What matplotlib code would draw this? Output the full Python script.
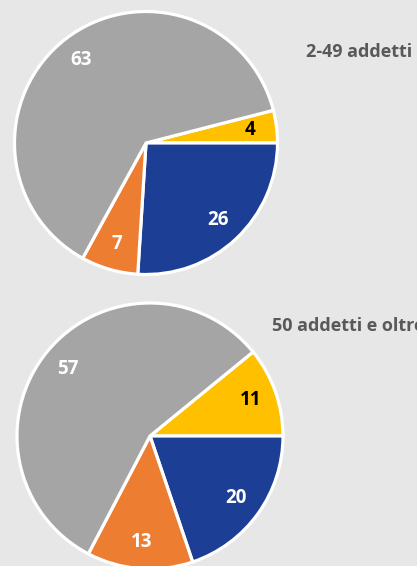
import matplotlib
matplotlib.use("Agg")
import matplotlib.pyplot as plt

categories = ["Giallo", "Blu", "Arancione", "Grigio"]
small_values = [4, 26, 7, 63]
large_values = [11, 20, 13, 57]
titles = ["2-49 addetti", "50 addetti e oltre"]

colors = ["#FFC000", "#1C3E94", "#ED7D31", "#A5A5A5"]
label_colors = ["black", "white", "white", "white"]
BG = "#E7E7E7"

W, H, DPI = 417, 566, 100
fig = plt.figure(figsize=(W / DPI, H / DPI), dpi=DPI)
fig.patch.set_facecolor(BG)
plt.rcParams['font.family'] = ['Open Sans', 'DejaVu Sans']


def draw_pie(values, cx, cy, r_px, title, tx, ty):
    lim = 1.04
    half = r_px * lim
    ax = fig.add_axes([(cx - half) / W, (H - cy - half) / H, 2 * half / W, 2 * half / H])
    total = sum(values)
    start = 360.0 * values[0] / total
    wedges, texts, autotexts = ax.pie(
        values, colors=colors, startangle=start, counterclock=False,
        autopct=lambda p: f"{round(p * total / 100):d}", pctdistance=0.8,
        wedgeprops=dict(edgecolor="white", linewidth=2.3),
        textprops=dict(fontsize=13.5, fontweight="bold"))
    for t, c in zip(autotexts, label_colors):
        t.set_color(c)
    for w in wedges:
        w.set_clip_on(False)
    ax.set_xlim(-lim, lim)
    ax.set_ylim(-lim, lim)
    ax.set_aspect("equal")
    ax.axis("off")
    fig.text(tx / W, 1 - ty / H, title, fontsize=13, fontweight="bold",
             color="#595959", ha="left", va="center")


draw_pie(small_values, 146, 143, 131.5, titles[0], 306, 52)
draw_pie(large_values, 150, 436, 133, titles[1], 272, 326)

fig.savefig("out.png", dpi=DPI, facecolor=BG)
